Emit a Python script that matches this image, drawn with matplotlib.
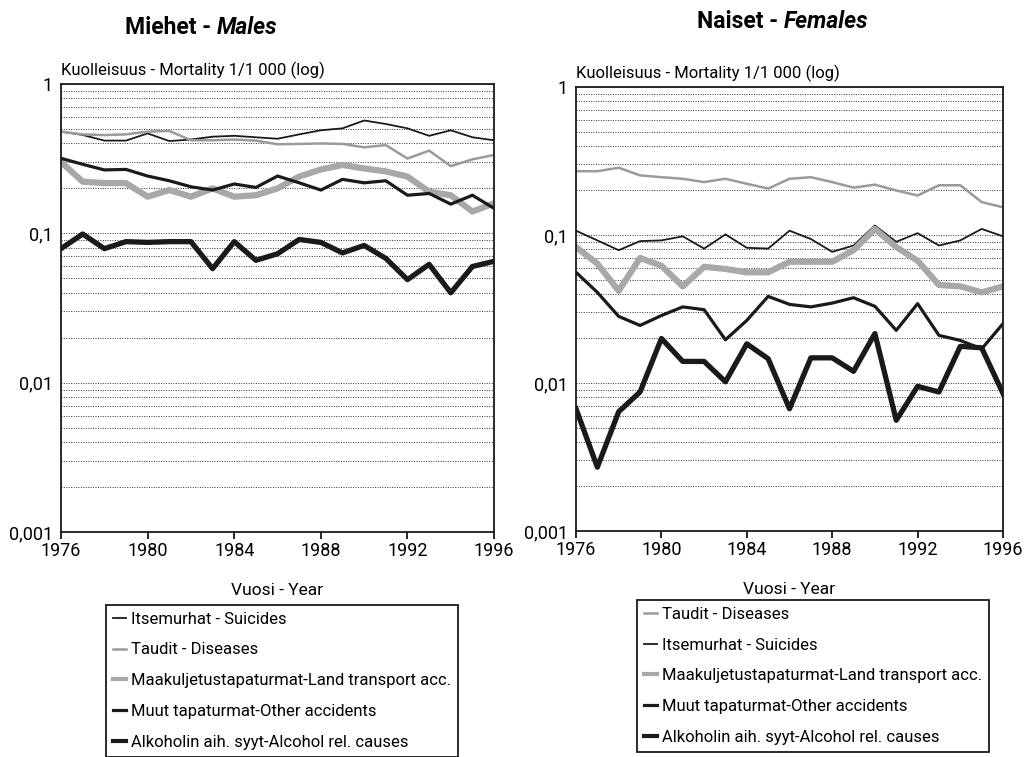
import matplotlib
matplotlib.use("Agg")
import matplotlib.pyplot as plt
from matplotlib.ticker import FixedLocator, FixedFormatter, LogLocator, NullFormatter
import numpy as np

plt.rcParams['font.family'] = ['Roboto', 'DejaVu Sans']

years = list(range(1976, 1997))

# Miehet - Males
m_suicides = [0.48, 0.456, 0.418, 0.418, 0.467, 0.415, 0.425, 0.444, 0.45, 0.44, 0.43,
              0.46, 0.49, 0.505, 0.57, 0.54, 0.505, 0.45, 0.49, 0.44, 0.42]
m_diseases = [0.48, 0.46, 0.455, 0.46, 0.48, 0.485, 0.42, 0.42, 0.425, 0.418, 0.395,
              0.397, 0.40, 0.397, 0.377, 0.39, 0.317, 0.358, 0.282, 0.313, 0.335]
m_transport = [0.30, 0.222, 0.217, 0.217, 0.176, 0.195, 0.176, 0.20, 0.176, 0.18, 0.20,
               0.24, 0.268, 0.287, 0.272, 0.26, 0.24, 0.19, 0.18, 0.14, 0.159]
m_other = [0.318, 0.29, 0.266, 0.268, 0.242, 0.225, 0.205, 0.195, 0.214, 0.203, 0.242,
           0.218, 0.195, 0.23, 0.218, 0.225, 0.18, 0.185, 0.157, 0.18, 0.147]
m_alcohol = [0.079, 0.099, 0.079, 0.088, 0.087, 0.088, 0.088, 0.058, 0.088, 0.066, 0.073,
             0.091, 0.087, 0.074, 0.083, 0.068, 0.049, 0.062, 0.040, 0.060, 0.065]

# Naiset - Females
f_diseases = [0.27, 0.27, 0.285, 0.253, 0.246, 0.24, 0.228, 0.24, 0.222, 0.206, 0.24,
              0.246, 0.228, 0.209, 0.219, 0.20, 0.185, 0.217, 0.217, 0.167, 0.154]
f_suicides = [0.107, 0.092, 0.079, 0.091, 0.092, 0.098, 0.081, 0.101, 0.082, 0.081, 0.107,
              0.094, 0.077, 0.085, 0.116, 0.09, 0.103, 0.085, 0.092, 0.11, 0.098]
f_transport = [0.083, 0.064, 0.042, 0.07, 0.062, 0.045, 0.061, 0.059, 0.056, 0.056, 0.066,
               0.066, 0.066, 0.079, 0.110, 0.083, 0.067, 0.046, 0.045, 0.041, 0.045]
f_other = [0.056, 0.041, 0.0282, 0.0245, 0.0286, 0.0327, 0.0313, 0.0196, 0.0265, 0.0385, 0.034,
           0.0327, 0.0347, 0.0377, 0.033, 0.0227, 0.0344, 0.021, 0.0194, 0.017, 0.0252]
f_alcohol = [0.0067, 0.0027, 0.0064, 0.0087, 0.020, 0.014, 0.014, 0.0102, 0.0184, 0.0146, 0.0067,
             0.0148, 0.0148, 0.012, 0.0216, 0.0056, 0.0095, 0.0087, 0.0177, 0.0173, 0.0085]

lab_sui = "Itsemurhat - Suicides"
lab_dis = "Taudit - Diseases"
lab_tra = "Maakuljetustapaturmat-Land transport acc."
lab_oth = "Muut tapaturmat-Other accidents"
lab_alc = "Alkoholin aih. syyt-Alcohol rel. causes"

sty_sui = dict(color="#1a1a1a", lw=1.3)
sty_dis = dict(color="#9a9a9a", lw=1.8)
sty_tra = dict(color="#a8a8a8", lw=4.5)
sty_oth = dict(color="#1a1a1a", lw=2.3)
sty_alc = dict(color="#1a1a1a", lw=3.8)

fig = plt.figure(figsize=(10.24, 7.57), dpi=100)
ax1 = fig.add_axes([0.0596, 0.2972, 0.4229, 0.5918])
ax2 = fig.add_axes([0.5625, 0.2985, 0.417, 0.5865])


def setup(ax):
    ax.set_yscale("log")
    ax.set_ylim(0.001, 1)
    ax.set_xlim(1976, 1996)
    ax.set_xticks([1976, 1980, 1984, 1988, 1992, 1996])
    ax.tick_params(axis="x", direction="out", length=5, width=1.2, labelsize=13, pad=2)
    ax.yaxis.set_major_locator(FixedLocator([0.001, 0.01, 0.1, 1]))
    ax.yaxis.set_major_formatter(FixedFormatter(["0,001", "0,01", "0,1", "1"]))
    ax.yaxis.set_minor_locator(LogLocator(base=10, subs=np.arange(2, 10)))
    ax.yaxis.set_minor_formatter(NullFormatter())
    ax.tick_params(axis="y", which="both", length=0, labelsize=13, pad=6)
    ax.grid(axis="y", which="both", color="#333333", lw=0.7, linestyle=(0, (1, 1.5)))
    for s in ax.spines.values():
        s.set_linewidth(1.3)
        s.set_color("#1a1a1a")
    ax.set_xlabel("Vuosi - Year", fontsize=12.5, labelpad=17)
    ax.text(0.0, 1.012, "Kuolleisuus - Mortality 1/1 000 (log)", transform=ax.transAxes,
            fontsize=12, ha="left", va="bottom")


setup(ax1)
ax1.plot(years, m_suicides, label=lab_sui, **sty_sui)
ax1.plot(years, m_diseases, label=lab_dis, **sty_dis)
ax1.plot(years, m_transport, label=lab_tra, **sty_tra)
ax1.plot(years, m_other, label=lab_oth, **sty_oth)
ax1.plot(years, m_alcohol, label=lab_alc, **sty_alc)

setup(ax2)
ax2.plot(years, f_diseases, label=lab_dis, **sty_dis)
ax2.plot(years, f_suicides, label=lab_sui, **sty_sui)
ax2.plot(years, f_transport, label=lab_tra, **sty_tra)
ax2.plot(years, f_other, label=lab_oth, **sty_oth)
ax2.plot(years, f_alcohol, label=lab_alc, **sty_alc)

# two-part titles: bold + bold italic
titles = [(ax1, 125, 34, "Miehet - ", "Males"), (ax2, 697, 28, "Naiset - ", "Females")]
for ax, tx, ty, first, second in titles:
    t = fig.text(tx / 1024, 1 - ty / 757, first, fontsize=16.5, fontweight="bold",
                 ha="left", va="baseline")
    ax.annotate(second, xy=(1, 0), xycoords=t, fontsize=16.5, fontweight="bold",
                style="italic", ha="left", va="bottom", annotation_clip=False)

for ax, x0, y0 in [(ax1, 106 / 1024, 1 - 605 / 757), (ax2, 637 / 1024, 1 - 600 / 757)]:
    leg = ax.legend(loc="upper left", bbox_to_anchor=(x0, y0), bbox_transform=fig.transFigure,
                    fontsize=12, handlelength=0.8, handletextpad=0.3, labelspacing=0.95,
                    borderpad=0.4, borderaxespad=0, fancybox=False, framealpha=1,
                    edgecolor="#1a1a1a")
    leg.get_frame().set_linewidth(1.3)
    for h in leg.get_lines():
        h.set_linewidth(min(h.get_linewidth(), 3.0))

fig.savefig("out.png", dpi=100)
